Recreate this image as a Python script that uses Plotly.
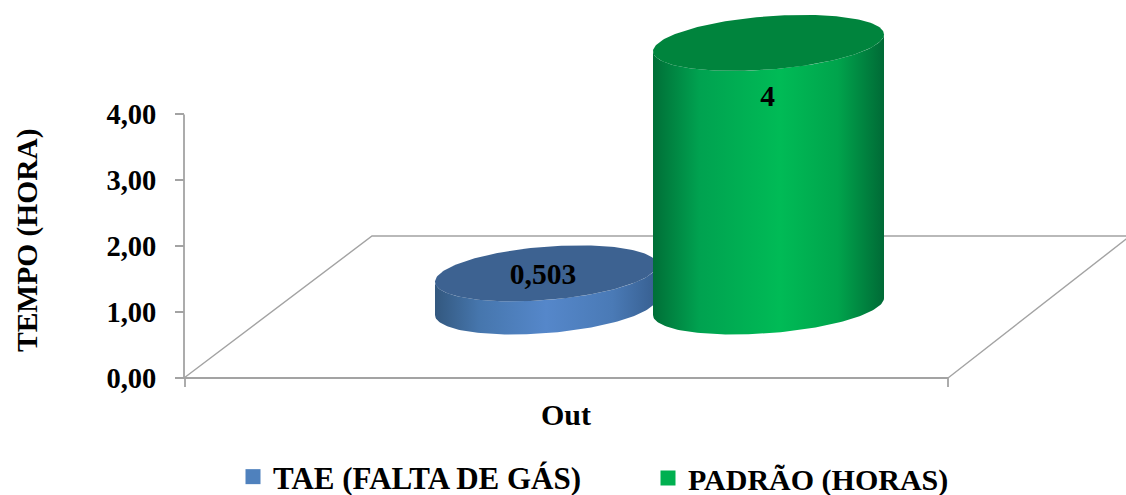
import numpy as np
import plotly.graph_objects as go

# --- data ---
categories = ["Out"]
series_names = ["TAE (FALTA DE GÁS)", "PADRÃO (HORAS)"]
tae_values = [0.503]
padrao_values = [4]
value_labels = ["0,503", "4"]
y_ticks = [0, 1, 2, 3, 4]

# --- layout geometry (pixel-like x axis, value y axis) ---
W, H = 1126, 510   # a little taller than the window, like the reference the legend touches the lower edge
Y0_PX, UNIT = 378.0, 65.9
FONT = "Liberation Serif"
GREY = "#a3a3a3"
FLOOR = (Y0_PX - 306.5) / UNIT   # where the cylinders stand on the 3-D floor
B_B = 26.7 / UNIT                # half height of top ellipse
SKEW = 8.5 / UNIT
CX = [546.0, 768.5]
HALF_W = [111.0, 115.5]

fig = go.Figure()

def line(xs, ys, width=1.4):
    fig.add_trace(go.Scatter(x=xs, y=ys, mode="lines", showlegend=False, hoverinfo="skip",
                             line=dict(color=GREY, width=width), cliponaxis=False))

def py(px):
    return (Y0_PX - px) / UNIT

# floor of the 3-D box
line([184, 372, 1130], [py(378), py(236), py(236)])
line([948, 1130], [py(378), py(236)])
# axes drawn from the value scale
line([184, 184], [0, max(y_ticks)], 1.8)
line([184, 948], [0, 0], 1.8)
line([185, 185], [0, py(387)], 1.8)
line([948, 948], [0, py(387)], 1.8)

def cylinder(cx, a, value, scale, top_col):
    t = np.linspace(0, 2 * np.pi, 181)
    top = FLOOR + value
    front = np.linspace(np.pi, 2 * np.pi, 91)   # lower half of an ellipse, left to right
    ex = cx + a * np.cos(front)
    offs = B_B * np.sin(front) + SKEW * np.cos(front)
    bx = np.concatenate([ex, ex[::-1]])
    by = np.concatenate([FLOOR + offs, top + offs[::-1]])
    bx = np.append(bx, bx[0]); by = np.append(by, by[0])
    fig.add_trace(go.Scatter(x=bx, y=by, mode="lines", line=dict(width=0), fill="toself",
                             fillgradient=dict(type="horizontal", colorscale=scale),
                             showlegend=False, hoverinfo="skip", cliponaxis=False))
    tx = cx + a * np.cos(t)
    ty = top + B_B * np.sin(t) + SKEW * np.cos(t)
    fig.add_trace(go.Scatter(x=tx, y=ty, mode="lines", line=dict(width=0), fill="toself",
                             fillcolor=top_col, showlegend=False, hoverinfo="skip", cliponaxis=False))

blue_scale = [[0, "#33587f"], [0.2, "#4676ad"], [0.5, "#5587ca"], [0.8, "#4a7ab6"], [1, "#375f90"]]
green_scale = [[0, "#006f37"], [0.2, "#00a250"], [0.55, "#00bb56"], [0.8, "#00a44c"], [1, "#006a36"]]

cylinder(CX[0], HALF_W[0], tae_values[0], blue_scale, "#3d6291")
cylinder(CX[1], HALF_W[1], padrao_values[0], green_scale, "#00843d")

# value labels
fig.add_trace(go.Scatter(x=[CX[0] - 3, CX[1] - 1],
                         y=[tae_values[0] + FLOOR - 0.045, padrao_values[0] + FLOOR - 0.85],
                         mode="text", text=value_labels, showlegend=False, hoverinfo="skip",
                         textfont=dict(family=FONT, size=29.5, color="#000000", weight="bold"), cliponaxis=False))

# legend keys: one legend per series so that each can sit at its own place
for name, col, leg in zip(series_names, ["#4f81bd", "#00b050"], ["legend", "legend2"]):
    fig.add_trace(go.Scatter(x=[None], y=[None], mode="markers", name=name, legend=leg,
                             marker=dict(symbol="square", size=15, color=col)))

leg_y = (H - 504) / H

fig.update_layout(
    width=W, height=H, margin=dict(l=0, r=0, t=0, b=0),
    paper_bgcolor="white", plot_bgcolor="white", separators=",.",
    xaxis=dict(range=[0, W], visible=False, fixedrange=True),
    yaxis=dict(range=[(Y0_PX - H) / UNIT, Y0_PX / UNIT], anchor="free", position=184 / W,
               tickvals=y_ticks, tickformat=".2f", ticks="outside", ticklen=9, tickcolor=GREY, tickwidth=1.6,
               ticklabelstandoff=13,
               tickfont=dict(family=FONT, size=28.5, color="#000000", weight="bold"), showgrid=False, zeroline=False,
               showline=False, fixedrange=True),
    legend=dict(orientation="h", x=233 / W, y=leg_y, yanchor="bottom", xanchor="left",
                font=dict(family=FONT, size=31, color="#000000", weight="bold"), bgcolor="rgba(0,0,0,0)"),
    legend2=dict(orientation="h", x=648 / W, y=leg_y, yanchor="bottom", xanchor="left",
                 font=dict(family=FONT, size=30, color="#000000", weight="bold"), bgcolor="rgba(0,0,0,0)"),
    annotations=[
        dict(text=categories[0], x=566, y=py(414), xref="x", yref="y", showarrow=False,
             font=dict(family=FONT, size=30, color="#000000", weight="bold")),
        dict(text="TEMPO (HORA)", x=27, y=py(240), xref="x", yref="y", showarrow=False, textangle=-90,
             font=dict(family=FONT, size=29.5, color="#000000", weight="bold")),
    ],
)
fig.write_html("out.html", config=dict(displayModeBar=False),
               post_script="document.body.style.margin='0';document.body.style.overflow='hidden';document.documentElement.style.overflow='hidden';")
